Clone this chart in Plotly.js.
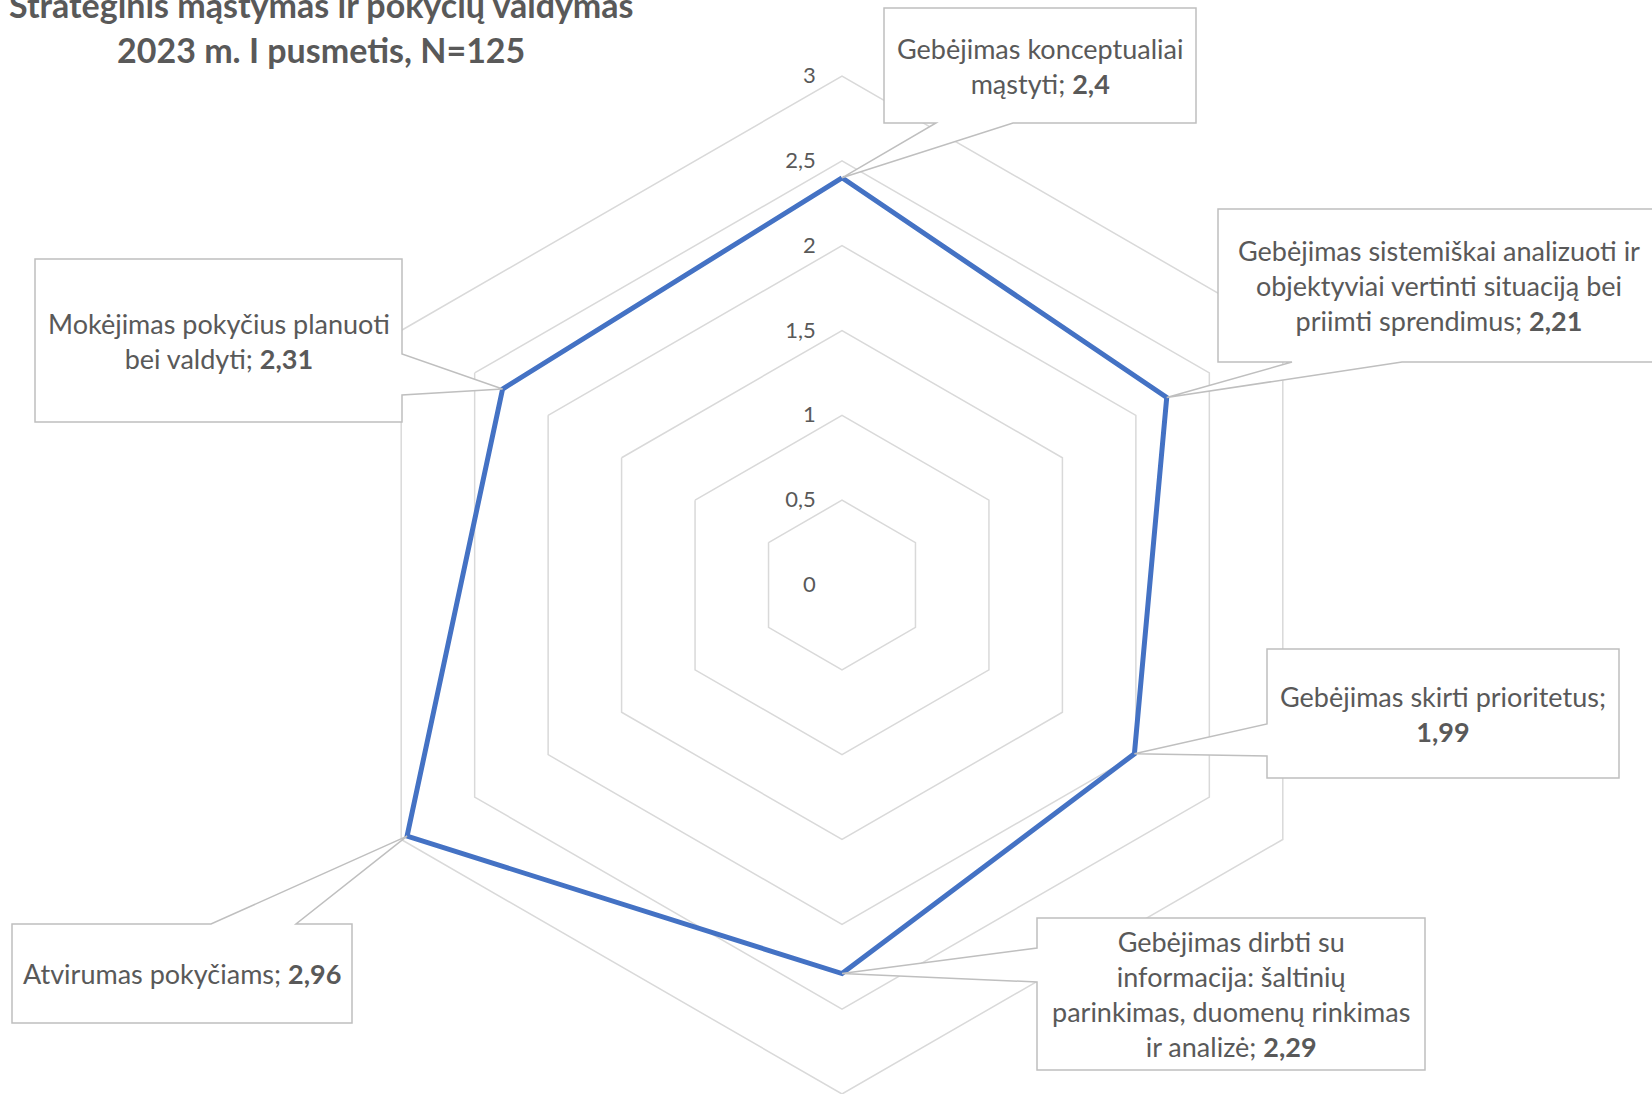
<!DOCTYPE html>
<html>
<head>
<meta charset="utf-8">
<script src="https://cdn.plot.ly/plotly-3.0.1.min.js"></script>
<style>
html,body{margin:0;padding:0;background:#fff;overflow:hidden;}
#chart{width:1652px;height:1094px;}
</style>
</head>
<body>
<div id="chart"></div>
<script>
// ---- data ----
const categories = [
  "Gebėjimas konceptualiai<br>mąstyti",
  "Gebėjimas sistemiškai analizuoti ir<br>objektyviai vertinti situaciją bei<br>priimti sprendimus",
  "Gebėjimas skirti prioritetus",
  "Gebėjimas dirbti su<br>informacija: šaltinių<br>parinkimas, duomenų rinkimas<br>ir analizė",
  "Atvirumas pokyčiams",
  "Mokėjimas pokyčius planuoti<br>bei valdyti"
];
const values = [2.4, 2.21, 1.99, 2.29, 2.96, 2.31];
const radialTicks = [0, 0.5, 1, 1.5, 2, 2.5, 3];
const titleLines = ["Strateginis mąstymas ir pokyčių valdymas", "2023 m. I pusmetis, N=125"];

// ---- layout constants ----
const W = 1652, H = 1094;
const cx = 842, cy = 585, R = 509, rMax = 3;
const grey = "#595959", gridC = "#d9d9d9", boxC = "#bfbfbf";
const font = "Lato, 'Open Sans', sans-serif";

// callout boxes (pixel layout): L,T,R,B, wedge side, wedge base positions, separator before value
const boxes = [
  {L:884, T:8,   R:1196, B:123,  side:"bottom", b1:936,  b2:1013, sep:"; "},
  {L:1218,T:209, R:1660, B:362,  side:"bottom", b1:1292, b2:1402, sep:"; "},
  {L:1267,T:649, R:1619, B:778,  side:"left",   b1:724,  b2:756,  sep:";<br>"},
  {L:1037,T:918, R:1425, B:1070, side:"left",   b1:948,  b2:982,  sep:"; "},
  {L:12,  T:924, R:352,  B:1023, side:"top",    b1:211,  b2:296,  sep:"; "},
  {L:35,  T:259, R:402,  B:422,  side:"right",  b1:354,  b2:395,  sep:"; "}
];

const px = x => x / W;
const py = y => 1 - y / H;
const fmt = v => String(v).replace(".", ",");

function pointPix(i) {
  const th = i * 2 * Math.PI / categories.length;
  const rr = values[i] / rMax * R;
  return [cx + rr * Math.sin(th), cy - rr * Math.cos(th)];
}

function calloutPath(b, tip) {
  const P = (x, y) => px(x) + "," + py(y);
  const t = P(tip[0], tip[1]);
  let pts;
  if (b.side === "top") {
    pts = [P(b.L,b.T), P(b.b1,b.T), t, P(b.b2,b.T), P(b.R,b.T), P(b.R,b.B), P(b.L,b.B)];
  } else if (b.side === "right") {
    pts = [P(b.L,b.T), P(b.R,b.T), P(b.R,b.b1), t, P(b.R,b.b2), P(b.R,b.B), P(b.L,b.B)];
  } else if (b.side === "bottom") {
    pts = [P(b.L,b.T), P(b.R,b.T), P(b.R,b.B), P(b.b2,b.B), t, P(b.b1,b.B), P(b.L,b.B)];
  } else {
    pts = [P(b.L,b.T), P(b.R,b.T), P(b.R,b.B), P(b.L,b.B), P(b.L,b.b2), t, P(b.L,b.b1)];
  }
  return "M" + pts.join(" L") + " Z";
}

const shapes = [];
const annotations = [];
boxes.forEach((b, i) => {
  shapes.push({
    type: "path", xref: "paper", yref: "paper",
    path: calloutPath(b, pointPix(i)),
    fillcolor: "#ffffff", line: {color: boxC, width: 1.5}, layer: "above"
  });
  annotations.push({
    xref: "paper", yref: "paper",
    x: px((b.L + b.R) / 2), y: py((b.T + b.B) / 2),
    xanchor: "center", yanchor: "middle", showarrow: false, align: "center",
    text: categories[i] + b.sep + "<b>" + fmt(values[i]) + "</b>",
    font: {family: font, size: 27, color: grey}
  });
});

annotations.push({
  xref: "paper", yref: "paper", x: px(321), y: py(4), xanchor: "center", yanchor: "middle",
  showarrow: false, text: "<b>" + titleLines[0] + "</b>", font: {family: font, size: 34, color: grey}
});
annotations.push({
  xref: "paper", yref: "paper", x: px(321), y: py(49), xanchor: "center", yanchor: "middle",
  showarrow: false, text: "<b>" + titleLines[1] + "</b>", font: {family: font, size: 34, color: grey}
});

const trace = {
  type: "scatterpolar", mode: "lines",
  r: values.concat([values[0]]),
  theta: categories.concat([categories[0]]),
  line: {color: "#4472C4", width: 5},
  hoverinfo: "skip", showlegend: false
};

const layout = {
  width: W, height: H,
  margin: {l: 0, r: 0, t: 0, b: 0, pad: 0},
  paper_bgcolor: "#ffffff",
  separators: ", ",
  font: {family: font, color: grey},
  showlegend: false,
  polar: {
    domain: {x: [px(cx - R), px(cx + R)], y: [py(cy + R), py(cy - R)]},
    bgcolor: "#ffffff",
    gridshape: "linear",
    angularaxis: {
      rotation: 90, direction: "clockwise", type: "category",
      showticklabels: false, ticks: "", showgrid: false,
      showline: true, linecolor: gridC, linewidth: 1.5
    },
    radialaxis: {
      range: [0, rMax], tickvals: radialTicks, angle: 90, side: "counterclockwise",
      showline: false, gridcolor: gridC, gridwidth: 1.5,
      ticks: "outside", ticklen: 18, tickcolor: "rgba(0,0,0,0)",
      tickfont: {family: font, size: 22, color: grey}, tickangle: 90
    }
  },
  shapes: shapes,
  annotations: annotations
};

Plotly.newPlot("chart", [trace], layout, {displayModeBar: false, staticPlot: true});
</script>
</body>
</html>
